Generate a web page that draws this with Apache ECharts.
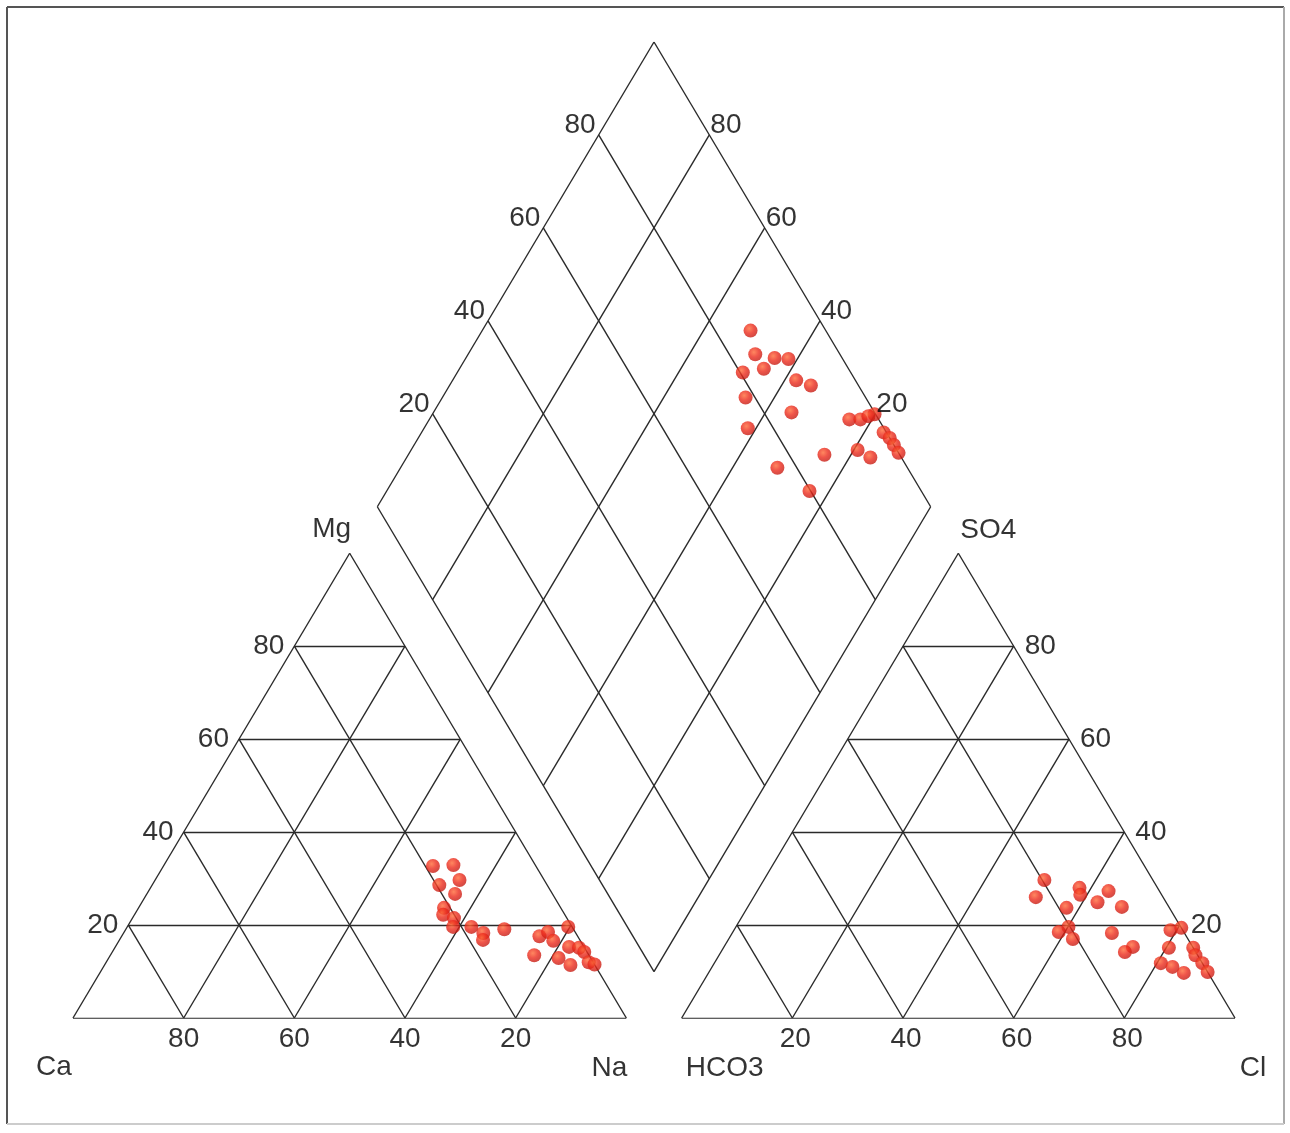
<!DOCTYPE html>
<html>
<head>
<meta charset="utf-8">
<title>Piper diagram</title>
<script src="https://cdn.jsdelivr.net/npm/echarts@6/dist/echarts.min.js"></script>
<style>
  html, body { margin: 0; padding: 0; background: #fff; }
  #chart { width: 1290px; height: 1133px; }
</style>
</head>
<body>
<div id="chart"></div>
<script>
// percentages (meq/L)
const ticks = [20, 40, 60, 80]

// cation triangle: [Ca, Mg, Na]
const cations = [
  [18.6, 32.7, 48.7], [14.8, 32.9, 52.3], [15.3, 29.7, 55.0], [19.5, 28.6, 51.9],
  [17.6, 26.7, 55.7], [21.1, 23.7, 55.2], [22.0, 22.2, 55.8], [20.4, 21.5, 58.1],
  [21.5, 19.6, 58.9], [18.2, 19.6, 62.2], [16.7, 18.3, 65.0], [17.5, 16.8, 65.7],
  [12.5, 19.1, 68.4], [6.9, 17.6, 75.5], [4.9, 18.5, 76.6], [4.9, 16.6, 78.5],
  [0.7, 19.6, 79.7], [9.9, 13.5, 76.6], [5.8, 12.9, 81.3], [2.7, 15.3, 82.0],
  [1.0, 15.1, 83.9], [0.5, 14.2, 85.3], [4.4, 11.4, 84.2], [0.8, 12.0, 87.2],
  [0.0, 11.5, 88.5]
]

// anion triangle: [HCO3, SO4, Cl]
const anions = [
  [19.6, 29.7, 50.7], [23.0, 26.0, 51.0], [14.1, 28.0, 57.9], [14.7, 26.5, 58.8],
  [9.2, 27.3, 63.5], [12.4, 24.9, 62.7], [8.5, 23.9, 67.6], [18.6, 23.7, 57.7],
  [20.3, 19.6, 60.1], [22.6, 18.5, 58.9], [20.8, 17.0, 62.2], [13.1, 18.3, 68.6],
  [10.8, 15.3, 73.9], [12.8, 14.2, 73.0], [2.2, 18.9, 78.9], [0.0, 19.4, 80.6],
  [4.4, 15.1, 80.5], [7.5, 11.8, 80.7], [5.8, 11.0, 83.2], [4.4, 9.7, 85.9],
  [0.0, 15.1, 84.9], [0.4, 13.5, 86.1], [0.0, 11.8, 88.2], [0.0, 9.9, 90.1]
]

// diamond: [Ca+Mg, SO4+Cl]
const diamond = [
  [51.5, 86.4], [48.1, 84.7], [44.2, 87.8], [41.6, 90.2], [45.0, 84.7],
  [48.4, 80.5], [37.9, 89.3], [34.7, 91.4], [45.2, 78.3], [35.3, 85.0],
  [41.5, 75.4], [24.1, 94.7], [22.1, 96.7], [20.1, 99.8], [21.0, 98.5],
  [16.5, 99.5], [14.8, 100], [13.3, 100], [11.6, 100], [19.3, 92.9],
  [16.2, 94.4], [24.8, 86.4], [31.9, 76.5], [23.6, 79.8]
]

const S = Math.sqrt(3) / 2
const GAP = 10

// ternary -> plane, triangle side = 100
const cationXY = (mg, na) => [na + mg / 2, mg * S]
const anionXY = (so4, cl) => [100 + GAP + cl + so4 / 2, so4 * S]
const diamondXY = (camg, so4cl) => {
  const na = 100 - camg
  return [50 + GAP / 2 + (na + so4cl) / 2, (100 + GAP) * S + (so4cl - na) * S]
}

const seg = (p, q) => ({ coords: [p, q] })
const segs = []

// outlines
segs.push(seg(cationXY(0, 0), cationXY(0, 100)), seg(cationXY(0, 100), cationXY(100, 0)), seg(cationXY(100, 0), cationXY(0, 0)))
segs.push(seg(anionXY(0, 0), anionXY(0, 100)), seg(anionXY(0, 100), anionXY(100, 0)), seg(anionXY(100, 0), anionXY(0, 0)))
segs.push(seg(diamondXY(100, 0), diamondXY(0, 0)), seg(diamondXY(0, 0), diamondXY(0, 100)),
  seg(diamondXY(0, 100), diamondXY(100, 100)), seg(diamondXY(100, 100), diamondXY(100, 0)))

// inner grid
ticks.forEach(v => {
  segs.push(seg(cationXY(v, 0), cationXY(v, 100 - v)))
  segs.push(seg(cationXY(0, v), cationXY(100 - v, v)))
  segs.push(seg(cationXY(0, 100 - v), cationXY(100 - v, 0)))
  segs.push(seg(anionXY(v, 0), anionXY(v, 100 - v)))
  segs.push(seg(anionXY(0, v), anionXY(100 - v, v)))
  segs.push(seg(anionXY(0, 100 - v), anionXY(100 - v, 0)))
  segs.push(seg(diamondXY(v, 0), diamondXY(v, 100)))
  segs.push(seg(diamondXY(0, v), diamondXY(100, v)))
})

// text labels
const txt = (pos, text, align, vAlign, offset) => ({
  value: pos, name: String(text),
  label: { align: align, verticalAlign: vAlign, offset: offset }
})
const labels = []
ticks.forEach(v => {
  labels.push(txt(cationXY(v, 0), v, 'right', 'middle', [-10, 0]))          // Mg
  labels.push(txt(cationXY(0, 100 - v), v, 'center', 'top', [0, 7]))        // Ca
  labels.push(txt(anionXY(v, 100 - v), v, 'left', 'middle', [11, 0]))        // SO4
  labels.push(txt(anionXY(0, v), v, 'center', 'top', [3, 7]))               // Cl
  labels.push(txt(diamondXY(100, v), v, 'right', 'middle', [-3, -10]))      // SO4+Cl
  labels.push(txt(diamondXY(v, 100), v, 'left', 'middle', [1, -10]))        // Ca+Mg
})
labels.push(txt(cationXY(0, 0), 'Ca', 'center', 'middle', [-19, 49]))
labels.push(txt(cationXY(0, 100), 'Na', 'center', 'middle', [-17, 50]))
labels.push(txt(cationXY(100, 0), 'Mg', 'center', 'middle', [-18, -24]))
labels.push(txt(anionXY(0, 0), 'HCO3', 'center', 'middle', [43, 50]))
labels.push(txt(anionXY(0, 100), 'Cl', 'center', 'middle', [18, 50]))
labels.push(txt(anionXY(100, 0), 'SO4', 'center', 'middle', [30, -23]))

const pts = []
cations.forEach(c => pts.push(cationXY(c[1], c[2])))
anions.forEach(a => pts.push(anionXY(a[1], a[2])))
diamond.forEach(d => pts.push(diamondXY(d[0], d[1])))

const chart = echarts.init(document.getElementById('chart'))

const option = {
  backgroundColor: '#fff',
  animation: false,
  grid: { left: 73, right: 55, top: 42, bottom: 115 },
  xAxis: { type: 'value', min: 0, max: 200 + GAP, show: false },
  yAxis: { type: 'value', min: 0, max: (200 + GAP) * S, show: false },
  graphic: [
    { type: 'line', shape: { x1: 7, y1: 7, x2: 1284, y2: 7 }, style: { stroke: '#555', lineWidth: 2 } },
    { type: 'line', shape: { x1: 7, y1: 7, x2: 7, y2: 1124 }, style: { stroke: '#555', lineWidth: 2 } },
    { type: 'line', shape: { x1: 1284, y1: 7, x2: 1284, y2: 1124 }, style: { stroke: '#aaa', lineWidth: 2 } },
    { type: 'line', shape: { x1: 7, y1: 1124, x2: 1284, y2: 1124 }, style: { stroke: '#ccc', lineWidth: 2 } }
  ],
  series: [
    {
      type: 'lines',
      coordinateSystem: 'cartesian2d',
      silent: true,
      lineStyle: { color: '#2a2a2a', width: 1.4, opacity: 1 },
      data: segs
    },
    {
      type: 'scatter',
      symbolSize: 14,
      silent: true,
      itemStyle: {
        color: new echarts.graphic.RadialGradient(0.4, 0.35, 0.7, [
          { offset: 0, color: '#ff6a38' },
          { offset: 0.5, color: '#eb2a1c' },
          { offset: 1, color: '#c01a12' }
        ])
      },
      data: pts
    },
    {
      type: 'scatter',
      symbolSize: 1,
      silent: true,
      itemStyle: { color: 'rgba(0,0,0,0)' },
      label: {
        show: true,
        position: 'inside',
        formatter: p => p.name,
        color: '#000',
        textBorderWidth: 0,
        fontSize: 28,
        fontFamily: 'Liberation Sans, Arial, sans-serif'
      },
      data: labels
    }
  ]
}

chart.setOption(option)
</script>
</body>
</html>
